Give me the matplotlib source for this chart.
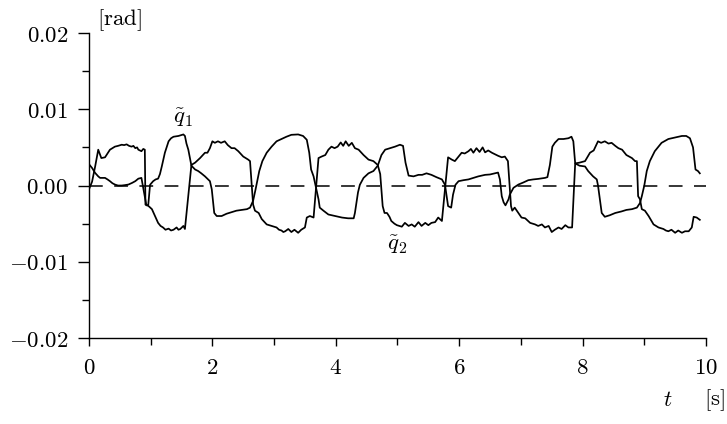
import numpy as np
from matplotlib import pyplot as plt
from matplotlib.ticker import MultipleLocator, FuncFormatter

plt.rcParams['mathtext.fontset'] = 'cm'
plt.rcParams['font.family'] = 'serif'
plt.rcParams['font.serif'] = ['DejaVu Serif']

# tracking error of joint 1 (rad)
t_q1 = [0.00, 0.05, 0.10, 0.15, 0.18, 0.26, 0.30, 0.34, 0.38, 0.42, 0.47, 0.53, 0.58, 0.64, 0.70,
        0.75, 0.80, 0.85, 0.93, 0.96, 0.99, 1.04, 1.08, 1.12, 1.15, 1.18, 1.23, 1.29, 1.33, 1.37,
        1.45, 1.53, 1.555, 1.58, 1.61, 1.66, 1.72, 1.77, 1.82, 1.88, 1.96, 1.99, 2.03, 2.07, 2.15,
        2.23, 2.31, 2.39, 2.47, 2.56, 2.61, 2.66, 2.70, 2.76, 2.81, 2.88, 2.96, 3.04, 3.12, 3.20,
        3.28, 3.39, 3.47, 3.53, 3.57, 3.60, 3.64, 3.67, 3.72, 3.74, 3.80, 3.88, 3.99, 4.10, 4.20,
        4.29, 4.31, 4.36, 4.39, 4.45, 4.53, 4.61, 4.68, 4.74, 4.80, 4.88, 4.96, 5.04, 5.09, 5.13,
        5.18, 5.26, 5.34, 5.40, 5.47, 5.55, 5.63, 5.72, 5.77, 5.82, 5.87, 5.90, 5.94, 5.99, 6.07,
        6.15, 6.23, 6.31, 6.42, 6.50, 6.58, 6.63, 6.66, 6.69, 6.72, 6.75, 6.80, 6.82, 6.88, 6.96,
        7.04, 7.12, 7.20, 7.28, 7.39, 7.43, 7.47, 7.51, 7.55, 7.61, 7.69, 7.77, 7.82, 7.85, 7.88,
        7.95, 8.04, 8.09, 8.17, 8.23, 8.25, 8.28, 8.31, 8.36, 8.44, 8.53, 8.63, 8.71, 8.80, 8.88,
        8.93, 8.96, 9.00, 9.04, 9.09, 9.17, 9.28, 9.39, 9.50, 9.61, 9.68, 9.74, 9.79, 9.81, 9.83,
        9.87, 9.90]
q1 = [0.0028, 0.0023, 0.00165, 0.0012, 0.0010, 0.0010, 0.0008, 0.00057, 0.0003, 0.00013, 0.0, 0.0,
      0.00005, 0.00013, 0.00035, 0.00057, 0.0009, 0.0010, -0.0026, -0.0026, 0.0001, 0.00057, 0.0008,
      0.0009, 0.0015, 0.0025, 0.0043, 0.0058, 0.0062, 0.0064, 0.0065, 0.0067, 0.0065, 0.0055, 0.0047,
      0.0026, 0.0021, 0.0019, 0.0016, 0.0012, 0.00057, -0.0005, -0.0036, -0.0040, -0.0040, -0.0037,
      -0.0035, -0.0033, -0.0032, -0.0031, -0.0029, -0.0020, -0.0005, 0.0019, 0.0032, 0.0043, 0.0051,
      0.0058, 0.0061, 0.0064, 0.00665, 0.0067, 0.0065, 0.0060, 0.0043, 0.0021, 0.0012, 0.0001,
      -0.0018, -0.0029, -0.0033, -0.0038, -0.0040, -0.0042, -0.0043, -0.0043, -0.0036, -0.0009,
      0.0001, 0.0010, 0.0016, 0.0019, 0.0026, 0.0040, 0.0047, 0.0049, 0.0051, 0.00535, 0.0052,
      0.0030, 0.0013, 0.0012, 0.0014, 0.0014, 0.0016, 0.0014, 0.0011, 0.0008, 0.0001, -0.0027,
      -0.0029, -0.0012, 0.0001, 0.00057, 0.0007, 0.0008, 0.0010, 0.0012, 0.0014, 0.00145, 0.0016,
      0.0017, 0.0008, -0.0014, -0.0022, -0.0026, -0.0018, -0.0012, -0.0003, 0.00013, 0.0004, 0.0007,
      0.0008, 0.00087, 0.0010, 0.0011, 0.0027, 0.0051, 0.0056, 0.0061, 0.0061, 0.0062, 0.0064,
      0.0058, 0.0029, 0.0026, 0.0025, 0.0019, 0.0012, 0.0008, 0.0, -0.0018, -0.0036, -0.0041,
      -0.0039, -0.0036, -0.0034, -0.0032, -0.0031, -0.0029, -0.0023, -0.0014, 0.0, 0.0019, 0.0032,
      0.0045, 0.0056, 0.0061, 0.0063, 0.0065, 0.0065, 0.0062, 0.0050, 0.0036, 0.0021, 0.0019, 0.0016]

# tracking error of joint 2 (rad)
t_q2 = [0.00, 0.05, 0.10, 0.15, 0.20, 0.26, 0.30, 0.34, 0.38, 0.42, 0.47, 0.53, 0.57, 0.61, 0.65,
        0.69, 0.72, 0.75, 0.78, 0.80, 0.85, 0.88, 0.905, 0.915, 0.95, 0.98, 1.02, 1.07, 1.12, 1.16,
        1.20, 1.24, 1.29, 1.33, 1.37, 1.42, 1.45, 1.48, 1.53, 1.555, 1.66, 1.72, 1.80, 1.88, 1.92,
        1.96, 2.00, 2.04, 2.09, 2.14, 2.20, 2.25, 2.31, 2.36, 2.42, 2.50, 2.58, 2.61, 2.66, 2.69,
        2.75, 2.80, 2.88, 2.96, 3.04, 3.08, 3.12, 3.15, 3.18, 3.23, 3.28, 3.33, 3.39, 3.44, 3.50,
        3.53, 3.58, 3.64, 3.72, 3.77, 3.83, 3.88, 3.93, 3.98, 4.03, 4.08, 4.12, 4.16, 4.21, 4.26,
        4.31, 4.37, 4.45, 4.53, 4.61, 4.68, 4.72, 4.76, 4.79, 4.83, 4.87, 4.90, 4.95, 4.99, 5.07,
        5.12, 5.18, 5.23, 5.28, 5.34, 5.39, 5.45, 5.50, 5.55, 5.61, 5.66, 5.72, 5.82, 5.88, 5.93,
        5.99, 6.04, 6.09, 6.15, 6.19, 6.23, 6.28, 6.33, 6.38, 6.42, 6.47, 6.53, 6.58, 6.63, 6.69,
        6.74, 6.79, 6.84, 6.86, 6.90, 6.96, 7.01, 7.07, 7.15, 7.23, 7.28, 7.34, 7.39, 7.45, 7.50,
        7.55, 7.61, 7.66, 7.72, 7.77, 7.83, 7.88, 7.95, 8.04, 8.12, 8.18, 8.25, 8.30, 8.36, 8.42,
        8.47, 8.53, 8.58, 8.64, 8.71, 8.80, 8.85, 8.88, 8.90, 8.93, 8.96, 9.01, 9.07, 9.15, 9.23,
        9.31, 9.35, 9.39, 9.44, 9.50, 9.55, 9.61, 9.66, 9.72, 9.77, 9.80, 9.85, 9.90]
q2 = [-0.0005, 0.0005, 0.0025, 0.0047, 0.0036, 0.0037, 0.0042, 0.0047, 0.0049, 0.0051, 0.0052,
      0.00535, 0.0053, 0.0054, 0.0052, 0.0051, 0.0052, 0.0049, 0.0050, 0.0047, 0.0045, 0.0048,
      0.0047, -0.0025, -0.0026, -0.0028, -0.0031, -0.0040, -0.0049, -0.0053, -0.0055, -0.0058,
      -0.00565, -0.0059, -0.0058, -0.0055, -0.0058, -0.0057, -0.0053, -0.0057, 0.0027, 0.0030,
      0.0036, 0.0043, 0.0043, 0.0049, 0.0058, 0.0056, 0.0058, 0.0056, 0.0058, 0.0053, 0.0049,
      0.0049, 0.0045, 0.0038, 0.0034, 0.0032, -0.0025, -0.0033, -0.0036, -0.0044, -0.0051, -0.0053,
      -0.0055, -0.0058, -0.0059, -0.0061, -0.0060, -0.0057, -0.0061, -0.0058, -0.0062, -0.0058,
      -0.0055, -0.0042, -0.0040, -0.0042, 0.0036, 0.0038, 0.0040, 0.0047, 0.0051, 0.0049, 0.0051,
      0.00565, 0.0052, 0.0058, 0.0052, 0.0056, 0.0049, 0.0047, 0.0040, 0.0034, 0.0032, 0.0027,
      0.0015, -0.0027, -0.0036, -0.0036, -0.0041, -0.00465, -0.0050, -0.0052, -0.0054, -0.0049,
      -0.0053, -0.0051, -0.0054, -0.0048, -0.0053, -0.0049, -0.0052, -0.0049, -0.0048, -0.0042,
      -0.00465, 0.0037, 0.0034, 0.0032, 0.0038, 0.0043, 0.0042, 0.0045, 0.0048, 0.0043, 0.0049,
      0.0044, 0.0050, 0.00435, 0.0046, 0.0043, 0.0041, 0.0039, 0.0037, 0.0038, 0.0032, -0.0027,
      -0.0033, -0.0029, -0.0036, -0.0042, -0.0043, -0.0049, -0.0051, -0.0053, -0.0051, -0.0055,
      -0.0053, -0.0061, -0.0058, -0.0055, -0.0057, -0.0052, -0.0055, -0.0055, 0.0029, 0.0030,
      0.0032, 0.0043, 0.0046, 0.0058, 0.0056, 0.0058, 0.0055, 0.0056, 0.0052, 0.0049, 0.0047,
      0.0040, 0.0036, 0.0032, 0.0032, -0.0014, -0.0018, -0.0031, -0.0033, -0.0040, -0.0051,
      -0.0055, -0.0057, -0.0059, -0.0060, -0.0058, -0.0062, -0.0059, -0.0062, -0.0060, -0.0060,
      -0.0055, -0.0041, -0.0042, -0.0045]

x_ticks = [0, 2, 4, 6, 8, 10]
y_ticks = [-0.02, -0.01, 0.0, 0.01, 0.02]

fig = plt.figure(figsize=(7.27, 4.24), dpi=100)
ax = fig.add_axes([0.1224, 0.2028, 0.8487, 0.7193])

ax.plot(t_q1, q1, color='black', lw=1.25)
ax.plot(t_q2, q2, color='black', lw=1.25)
ax.plot([0, 10], [0, 0], color='black', lw=1.1, dashes=(9, 7.5))

ax.set_xlim(0, 10)
ax.set_ylim(-0.02, 0.02)
for s in ['top', 'right']:
    ax.spines[s].set_visible(False)
for s in ['left', 'bottom']:
    ax.spines[s].set_linewidth(1.0)

ax.set_xticks(x_ticks)
ax.xaxis.set_minor_locator(MultipleLocator(1))
ax.set_yticks(y_ticks)
ax.yaxis.set_minor_locator(MultipleLocator(0.005))
ax.xaxis.set_major_formatter(FuncFormatter(lambda v, p: r'$%d$' % v))
ax.yaxis.set_major_formatter(FuncFormatter(lambda v, p: r'$%.2f$' % v))
ax.tick_params(axis='y', which='major', length=8, width=1.0, pad=7, labelsize=16.5)
ax.tick_params(axis='y', which='minor', length=5, width=1.0)
ax.tick_params(axis='x', which='major', length=6, width=1.0, pad=8, labelsize=16.5)
ax.tick_params(axis='x', which='minor', length=5, width=1.0)

ax.text(1.52, 0.0089, r'$\tilde{q}_1$', fontsize=16.5, ha='center', va='center')
ax.text(5.0, -0.0077, r'$\tilde{q}_2$', fontsize=16.5, ha='center', va='center')
fig.text(97 / 727, 1 - 20 / 424, r'$\mathrm{[rad]}$', fontsize=16.5, ha='left', va='center')
fig.text(668 / 727, 1 - 400 / 424, r'$t$', fontsize=16.5, ha='center', va='center')
fig.text(1 - 2 / 727, 1 - 400 / 424, r'$\mathrm{[s]}$', fontsize=16.5, ha='right', va='center')

fig.savefig('out.png', dpi=100)
